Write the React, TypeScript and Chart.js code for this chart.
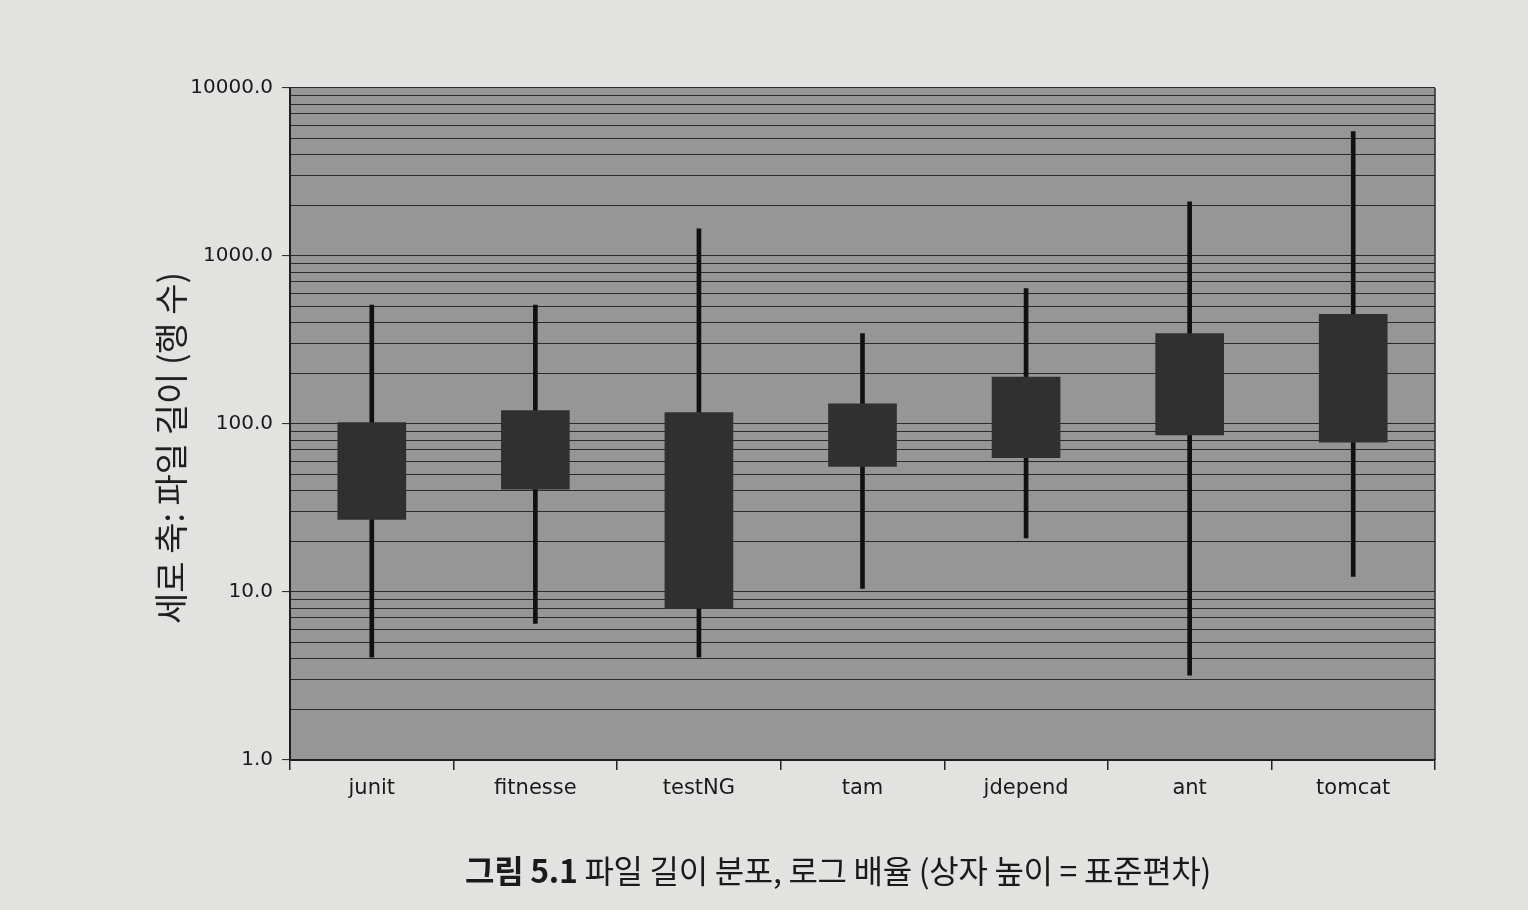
import React, { useEffect, useRef } from 'react';
import { Chart, registerables } from 'chart.js';

Chart.register(...registerables);

const categories = ['junit', 'fitnesse', 'testNG', 'tam', 'jdepend', 'ant', 'tomcat'];
const whiskerMin = [4.1, 6.5, 4.1, 10.5, 21, 3.2, 12.4];
const whiskerMax = [510, 510, 1450, 345, 640, 2100, 5500];
const boxLow = [27, 41, 8, 56, 63, 86, 78];
const boxHigh = [102, 120, 117, 132, 190, 345, 450];

const yTickValues = [
  1, 2, 3, 4, 5, 6, 7, 8, 9,
  10, 20, 30, 40, 50, 60, 70, 80, 90,
  100, 200, 300, 400, 500, 600, 700, 800, 900,
  1000, 2000, 3000, 4000, 5000, 6000, 7000, 8000, 9000,
  10000,
];
const yDecades = [1, 10, 100, 1000, 10000];

const yTitle = '세로 축: 파일 길이 (행 수)';
const captionBold = '그림 5.1';
const captionRest = ' 파일 길이 분포, 로그 배율 (상자 높이 = 표준편차)';

const plotBg = {
  id: 'plotBg',
  beforeDraw(chart: any) {
    const { ctx, chartArea } = chart;
    if (!chartArea) return;
    ctx.save();
    ctx.fillStyle = '#969696';
    ctx.fillRect(chartArea.left, chartArea.top, chartArea.right - chartArea.left, chartArea.bottom - chartArea.top);
    ctx.restore();
  },
  afterDraw(chart: any) {
    const { ctx, chartArea } = chart;
    if (!chartArea) return;
    ctx.save();
    ctx.strokeStyle = '#2a2a2a';
    ctx.lineWidth = 1.5;
    ctx.beginPath();
    ctx.moveTo(chartArea.right, chartArea.top);
    ctx.lineTo(chartArea.right, chartArea.bottom);
    ctx.stroke();
    ctx.restore();
  },
};

export default function App() {
  const canvasRef = useRef<HTMLCanvasElement | null>(null);

  useEffect(() => {
    const canvas = canvasRef.current;
    if (!canvas) return;
    const chart = new Chart(canvas, {
      type: 'bar',
      data: {
        labels: categories,
        datasets: [
          {
            label: 'box',
            data: boxLow.map((v, i) => [v, boxHigh[i]]) as any,
            backgroundColor: '#303030',
            borderWidth: 0,
            barThickness: 68,
            grouped: false,
            order: 0,
          },
          {
            label: 'range',
            data: whiskerMin.map((v, i) => [v, whiskerMax[i]]) as any,
            backgroundColor: '#111111',
            borderWidth: 0,
            barThickness: 4,
            grouped: false,
            order: 1,
          },
        ],
      },
      options: {
        animation: false,
        responsive: true,
        maintainAspectRatio: false,
        layout: { padding: { left: 140, top: 88, right: 93, bottom: 80 } },
        plugins: {
          legend: { display: false },
          tooltip: { enabled: false },
          title: { display: false },
        },
        scales: {
          x: {
            type: 'category',
            afterFit: (s: any) => { s.height = 70; },
            grid: {
              offset: true,
              drawOnChartArea: false,
              drawTicks: true,
              tickLength: 10,
              color: '#222',
              lineWidth: 1.5,
            },
            border: { display: true, color: '#1e1e1e', width: 2 },
            ticks: {
              color: '#1a1a1a',
              padding: 6,
              maxRotation: 0,
              minRotation: 0,
              font: { family: 'DejaVu Sans', size: 21 },
            },
          },
          y: {
            type: 'logarithmic',
            min: 1,
            max: 10000,
            afterFit: (s: any) => { s.width = 150; },
            afterBuildTicks: (s: any) => {
              s.ticks = yTickValues.map((v) => ({ value: v, major: yDecades.includes(v) }));
            },
            grid: {
              color: '#2b2b2b',
              lineWidth: 1.1,
              drawTicks: true,
              tickLength: 8,
              tickColor: (ctx: any) => (ctx.tick && yDecades.includes(ctx.tick.value) ? '#333' : 'rgba(0,0,0,0)'),
            },
            border: { display: true, color: '#1e1e1e', width: 2 },
            ticks: {
              autoSkip: false,
              color: '#1a1a1a',
              padding: 9,
              font: { family: 'DejaVu Sans', size: 20 },
              callback: (value: any) => (yDecades.includes(Number(value)) ? Number(value).toFixed(1) : ''),
            },
            title: { display: false },
          },
        },
      },
      plugins: [plotBg],
    });
    return () => chart.destroy();
  }, []);

  return (
    <div
      style={{
        position: 'fixed',
        left: 0,
        top: 0,
        width: 1528,
        height: 910,
        background: '#e2e2e0',
        overflow: 'hidden',
      }}
    >
      <canvas ref={canvasRef} style={{ position: 'absolute', left: 0, top: 0, width: 1528, height: 910 }} />
      <div
        style={{
          position: 'absolute',
          left: 170,
          top: 448,
          transform: 'translate(-50%, -50%) rotate(-90deg)',
          fontFamily: '"Noto Sans CJK KR", sans-serif',
          fontSize: 34,
          color: '#1e1e1e',
          whiteSpace: 'nowrap',
          lineHeight: 1,
        }}
      >
        {yTitle}
      </div>
      <div
        style={{
          position: 'absolute',
          left: 0,
          width: 1676,
          top: 846,
          textAlign: 'center',
          fontFamily: '"Noto Sans CJK KR", sans-serif',
          fontSize: 32,
          color: '#1a1a1a',
          letterSpacing: -0.3,
          whiteSpace: 'nowrap',
        }}
      >
        <span style={{ fontWeight: 'bold' }}>{captionBold}</span>
        <span>{captionRest}</span>
      </div>
    </div>
  );
}
